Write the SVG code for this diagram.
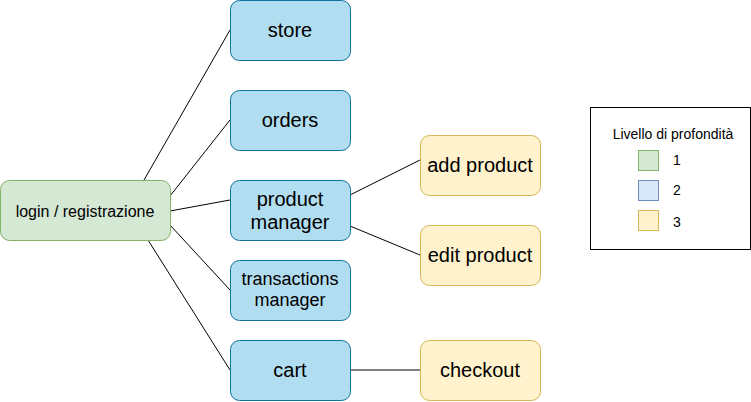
<svg xmlns="http://www.w3.org/2000/svg" width="751" height="402" viewBox="0 0 751 402">
<style>
.g{fill:#d5e8d4;stroke:#82b366}
.b{fill:#b1ddf0;stroke:#10739e}
.y{fill:#fff2cc;stroke:#d6b656}
.lb{fill:#dae8fc;stroke:#6c8ebf}
text{font-family:"Liberation Sans",Arial,sans-serif;fill:#000;text-anchor:middle;dominant-baseline:central}
.t{font-size:20px}
.s{font-size:18px}
.l{font-size:14px}
.c line{stroke:#000;stroke-width:1}
</style>
<rect width="751" height="402" fill="#fff"/>
<g class="c" id="connectors">
<line x1="144" y1="180" x2="230" y2="30"/>
<line x1="170" y1="196" x2="230" y2="120"/>
<line x1="170" y1="211" x2="230" y2="200"/>
<line x1="170" y1="225" x2="230" y2="290"/>
<line x1="148" y1="240" x2="230" y2="370"/>
<line x1="350" y1="195" x2="420" y2="160"/>
<line x1="350" y1="226" x2="420" y2="255"/>
<line x1="350" y1="370" x2="420" y2="370"/>
</g>
<g id="login"><rect class="g" x="0.5" y="180.5" width="170" height="60" rx="9"/><text x="85" y="211" font-size="16">login / registrazione</text></g>
<g id="store"><rect class="b" x="230.5" y="0.5" width="120" height="60" rx="9"/><text class="t" x="290" y="30">store</text></g>
<g id="orders"><rect class="b" x="230.5" y="90.5" width="120" height="60" rx="9"/><text class="t" x="290" y="120">orders</text></g>
<g id="productmanager"><rect class="b" x="230.5" y="180.5" width="120" height="60" rx="9"/><text class="t" x="290" y="199">product</text><text class="t" x="290" y="222">manager</text></g>
<g id="transactions"><rect class="b" x="230.5" y="260.5" width="120" height="60" rx="9"/><text class="s" x="290" y="279">transactions</text><text class="s" x="290" y="300">manager</text></g>
<g id="cart"><rect class="b" x="230.5" y="340.5" width="120" height="60" rx="9"/><text class="t" x="290" y="370">cart</text></g>
<g id="addproduct"><rect class="y" x="420.5" y="135.5" width="120" height="60" rx="9"/><text class="t" x="480" y="165">add product</text></g>
<g id="editproduct"><rect class="y" x="420.5" y="225.5" width="120" height="60" rx="9"/><text class="t" x="480" y="255">edit product</text></g>
<g id="checkout"><rect class="y" x="420.5" y="340.5" width="120" height="60" rx="9"/><text class="t" x="480" y="370">checkout</text></g>
<g id="legend">
<rect x="590.5" y="107.5" width="160" height="142" fill="#fff" stroke="#000"/>
<text class="l" x="673" y="134">Livello di profondità</text>
<rect class="g" x="638.5" y="150.5" width="20" height="20"/><text class="l" x="677" y="160">1</text>
<rect class="lb" x="638.5" y="180.5" width="20" height="20"/><text class="l" x="677" y="190">2</text>
<rect class="y" x="638.5" y="210.5" width="20" height="20"/><text class="l" x="677" y="222">3</text>
</g>
</svg>
